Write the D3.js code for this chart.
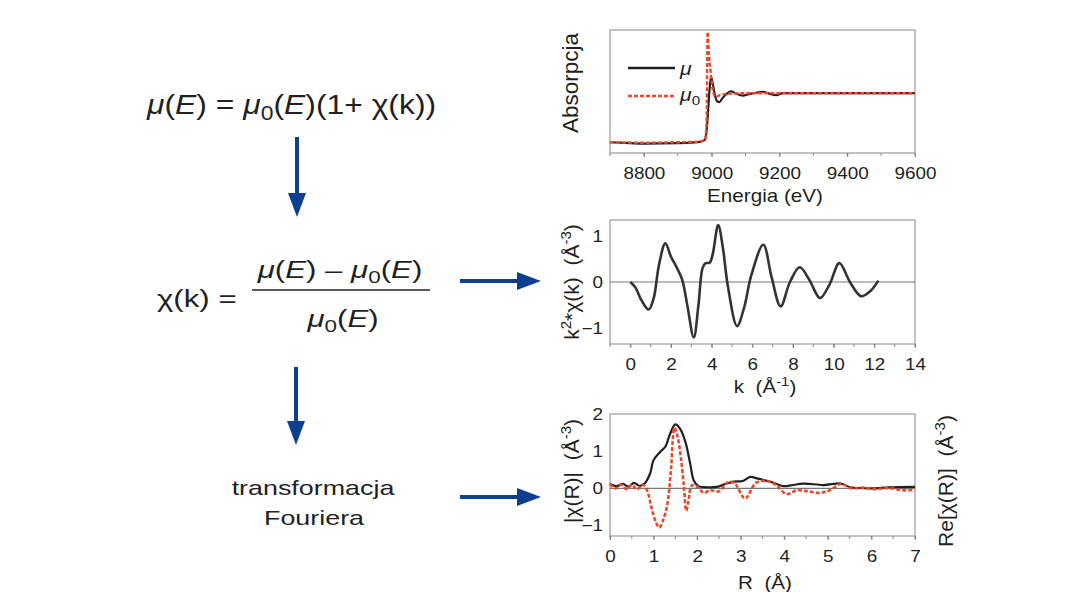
<!DOCTYPE html>
<html>
<head>
<meta charset="utf-8">
<script src="https://cdn.jsdelivr.net/npm/d3@7"></script>
<style>
  body { margin: 0; background: #fff; }
  svg { display: block; }
  text { font-family: "Liberation Sans", Arial, sans-serif; fill: #231f20; white-space: pre; }
</style>
</head>
<body>
<svg id="chart"></svg>
<script>
// widma XANES / EXAFS, wartosci
const energia = [8700, 8760, 8800, 8900, 8960, 8980, 8986, 8990, 8994, 8998, 9003, 9010, 9017, 9023, 9032, 9045, 9057, 9070, 9092, 9110, 9130, 9151, 9170, 9191, 9210, 9300, 9450, 9600];
const mu      = [0.0, -0.02, -0.03, -0.02, 0.0, 0.05, 0.3, 0.7, 1.1, 1.33, 1.2, 0.95, 0.83, 0.82, 0.9, 0.99, 1.04, 1.0, 0.95, 0.98, 1.01, 1.03, 0.99, 0.96, 1.0, 1.0, 1.0, 1.0];
const energia0 = [8700, 8800, 8900, 8960, 8980, 8985, 8988, 8992, 8996, 9000, 9005, 9012, 9025, 9050, 9100, 9300, 9600];
const mu0      = [0.0, -0.01, 0.0, 0.01, 0.05, 0.4, 2.25, 1.8, 1.5, 1.25, 1.0, 0.93, 0.96, 0.99, 1.0, 1.0, 1.0];
const eTicks = [8800, 9000, 9200, 9400, 9600];

const kVals = [0, 0.25, 0.55, 0.9, 1.15, 1.4, 1.72, 2.0, 2.3, 2.55, 2.8, 3.12, 3.35, 3.55, 3.7, 3.9, 4.05, 4.32, 4.55, 4.8, 5.25, 5.6, 5.95, 6.54, 6.95, 7.39, 7.85, 8.33, 8.8, 9.33, 9.8, 10.28, 10.8, 11.35, 11.8, 12.2];
const chiK  = [0, -0.12, -0.4, -0.6, -0.35, 0.35, 0.84, 0.55, 0.3, 0.05, -0.5, -1.21, -0.5, 0.3, 0.41, 0.42, 0.6, 1.24, 0.75, -0.1, -0.96, -0.55, 0.15, 0.81, 0.1, -0.53, 0.0, 0.32, 0.05, -0.35, -0.05, 0.41, 0.0, -0.31, -0.2, 0.03];
const kTicks = [0, 2, 4, 6, 8, 10, 12, 14];
const chiTicks = [-1, 0, 1];

const rMag = [0, 0.15, 0.3, 0.42, 0.55, 0.68, 0.8, 0.92, 1.0, 1.15, 1.27, 1.38, 1.5, 1.61, 1.73, 1.84, 1.92, 2.03, 2.22, 2.45, 2.65, 2.84, 3.05, 3.22, 3.37, 3.68, 3.99, 4.14, 4.45, 4.9, 5.3, 5.52, 6.0, 6.4, 7.0];
const chiRMag = [0.12, 0.06, 0.12, 0.05, 0.15, 0.07, 0.14, 0.4, 0.76, 0.98, 1.12, 1.47, 1.72, 1.6, 1.25, 0.67, 0.22, 0.06, 0.03, 0.04, 0.12, 0.18, 0.2, 0.31, 0.27, 0.18, 0.06, 0.08, 0.13, 0.09, 0.13, 0.03, 0.0, 0.03, 0.04];
const rRe = [0, 0.12, 0.25, 0.38, 0.5, 0.62, 0.75, 0.85, 0.95, 1.05, 1.13, 1.22, 1.32, 1.4, 1.48, 1.55, 1.63, 1.7, 1.75, 1.8, 1.88, 2.0, 2.15, 2.3, 2.5, 2.7, 2.85, 3.1, 3.35, 3.6, 3.8, 4.05, 4.3, 4.55, 4.8, 5.05, 5.3, 5.55, 5.8, 6.1, 6.4, 6.7, 7.0];
const chiRRe = [0.12, 0.0, 0.1, -0.02, 0.1, -0.03, 0.1, -0.05, -0.5, -0.9, -1.05, -0.85, -0.4, 0.5, 1.63, 1.4, 0.8, 0.0, -0.6, -0.35, 0.08, 0.05, -0.12, -0.05, -0.08, 0.16, 0.15, -0.27, 0.15, 0.2, 0.1, -0.15, -0.05, -0.08, -0.12, -0.05, 0.12, 0.0, 0.02, -0.02, 0.01, -0.05, -0.04];
const rTicks = [0, 1, 2, 3, 4, 5, 6, 7];
const rYTicks = [-1, 0, 1, 2];

const width = 1072, height = 592;
const SX = 1.18;   // tekst na oryginale jest rozciagniety w poziomie
const czarny = "#231f20", czerwony = "#e8492a", niebieski = "#0c3f8e", ramka = "#9a9a9a";

const svg = d3.select("#chart").attr("width", width).attr("height", height);

function label(x, y, size, parts, anchor, rot, sx) {
  const t = svg.append("text")
      .attr("font-size", size)
      .attr("text-anchor", anchor || "start")
      .attr("transform", rot ? `translate(${x},${y}) rotate(-90)` : `translate(${x},${y}) scale(${sx || SX},1)`);
  let shift = 0;
  parts.forEach(p => {
    const s = typeof p === "string" ? p : p[0];
    const st = typeof p === "string" ? "" : p[1];
    const ts = t.append("tspan").text(s);
    let target = 0;
    if (st.includes("sub")) target = size * 0.22;
    if (st.includes("sup")) target = -size * 0.4;
    ts.attr("dy", target - shift);
    shift = target;
    if (target !== 0) ts.attr("font-size", size * 0.72);
    if (st.includes("i")) ts.attr("font-style", "italic");
  });
  return t;
}

function panel(x, y, xTicks, minor, yTicks, fmt) {
  const g = svg.append("g");
  g.append("rect")
    .attr("x", x.range()[0]).attr("y", y.range()[1])
    .attr("width", x.range()[1] - x.range()[0])
    .attr("height", y.range()[0] - y.range()[1])
    .attr("fill", "none").attr("stroke", ramka).attr("stroke-width", 1.2);

  const ax = g.append("g").attr("transform", `translate(0,${y.range()[0]})`)
    .call(d3.axisBottom(x).tickValues(xTicks).tickSize(4).tickSizeOuter(0).tickPadding(11).tickFormat(fmt || d3.format("d")));
  ax.select(".domain").remove();
  ax.selectAll(".tick line").attr("stroke", "#777");
  ax.selectAll(".tick text").attr("font-size", 16).attr("fill", czarny)
    .attr("font-family", "Liberation Sans, Arial, sans-serif")
    .attr("transform", `scale(${SX},1)`);

  g.append("g").selectAll("line").data(minor).join("line")
    .attr("x1", d => x(d)).attr("x2", d => x(d))
    .attr("y1", y.range()[0]).attr("y2", y.range()[0] + 3)
    .attr("stroke", "#888");

  if (yTicks) {
    const ay = g.append("g").attr("transform", `translate(${x.range()[0]},0)`)
      .call(d3.axisLeft(y).tickValues(yTicks).tickSize(0).tickPadding(7).tickFormat(d3.format("d")));
    ay.select(".domain").remove();
    ay.selectAll(".tick text").attr("font-size", 16).attr("fill", czarny)
      .attr("font-family", "Liberation Sans, Arial, sans-serif")
      .attr("x", -7 / SX)
      .attr("transform", `scale(${SX},1)`);
  }
  return g;
}

// ---- panel 1: absorpcja
const x1 = d3.scaleLinear().domain([8700, 9600]).range([610, 915]);
const y1 = d3.scaleLinear().domain([-0.22, 2.29]).range([153, 30]);
const p1 = panel(x1, y1, eTicks, d3.range(8700, 9601, 100), null);

const line1 = d3.line().x(d => x1(d[0])).y(d => y1(d[1])).curve(d3.curveMonotoneX);
p1.append("path").datum(d3.zip(energia, mu)).attr("d", line1)
  .attr("fill", "none").attr("stroke", czarny).attr("stroke-width", 2.2);
p1.append("path").datum(d3.zip(energia0, mu0)).attr("d", line1)
  .attr("fill", "none").attr("stroke", czerwony).attr("stroke-width", 2.4)
  .attr("stroke-dasharray", "4,2");

// legenda
p1.append("line").attr("x1", 628).attr("x2", 675).attr("y1", 68).attr("y2", 68)
  .attr("stroke", czarny).attr("stroke-width", 2.4);
p1.append("line").attr("x1", 628).attr("x2", 675).attr("y1", 96).attr("y2", 96)
  .attr("stroke", czerwony).attr("stroke-width", 2.4).attr("stroke-dasharray", "4,2");
label(680, 75, 18, [["μ", "i"]]);
label(680, 101, 18, [["μ", "i"], ["0", "sub"]]);

label(578, 83, 22.5, ["Absorpcja"], "middle", true);
label(765, 202, 17.5, ["Energia (eV)"], "middle");

// ---- panel 2: chi(k)
const x2 = d3.scaleLinear().domain([-1, 14]).range([610, 915]);
const y2 = d3.scaleLinear().domain([-1.35, 1.35]).range([344, 220]);
const p2 = panel(x2, y2, kTicks, d3.range(-1, 14.1, 1), chiTicks);
p2.append("line").attr("x1", 610).attr("x2", 915).attr("y1", y2(0)).attr("y2", y2(0))
  .attr("stroke", "#777").attr("stroke-width", 1.2);
p2.append("path").datum(d3.zip(kVals, chiK))
  .attr("d", d3.line().x(d => x2(d[0])).y(d => y2(d[1])).curve(d3.curveCatmullRom))
  .attr("fill", "none").attr("stroke", "#333").attr("stroke-width", 2.6);

label(579, 282, 21, ["k", ["2", "sup"], "*χ(k)  (Å", ["-3", "sup"], ")"], "middle", true);
label(765, 393, 17.5, ["k  (Å", ["-1", "sup"], ")"], "middle");

// ---- panel 3: chi(R)
const x3 = d3.scaleLinear().domain([0, 7]).range([610, 915]);
const y3 = d3.scaleLinear().domain([-1.28, 2]).range([536, 414]);
const p3 = panel(x3, y3, rTicks, d3.range(0, 7.01, 0.5), rYTicks);
p3.append("line").attr("x1", 610).attr("x2", 915).attr("y1", y3(0)).attr("y2", y3(0))
  .attr("stroke", "#777").attr("stroke-width", 1.2);
const line3 = d3.line().x(d => x3(d[0])).y(d => y3(d[1])).curve(d3.curveCatmullRom);
p3.append("path").datum(d3.zip(rMag, chiRMag)).attr("d", line3)
  .attr("fill", "none").attr("stroke", czarny).attr("stroke-width", 2.2);
p3.append("path").datum(d3.zip(rRe, chiRRe)).attr("d", line3)
  .attr("fill", "none").attr("stroke", czerwony).attr("stroke-width", 2.6)
  .attr("stroke-dasharray", "4,2");

label(579, 471, 21, ["|χ(R)|  (Å", ["-3", "sup"], ")"], "middle", true);
label(953, 481, 21, ["Re[χ(R)]  (Å", ["-3", "sup"], ")"], "middle", true);
label(765, 589, 17.5, ["R  (Å)"], "middle");

// ---- wzory
label(147, 114, 27, [["μ", "i"], "(", ["E", "i"], ") = ", ["μ", "i"], ["0", "sub"], "(", ["E", "i"], ")(1+ χ(k))"]);
label(157, 307, 24, ["χ(k) ="], "start", false, 1.3);
label(340, 278, 24, [["μ", "i"], "(", ["E", "i"], ") – ", ["μ", "i"], ["0", "sub"], "(", ["E", "i"], ")"], "middle", false, 1.3);
svg.append("line").attr("x1", 252).attr("x2", 430).attr("y1", 290).attr("y2", 290)
  .attr("stroke", czarny).attr("stroke-width", 1.5);
label(343, 327, 24, [["μ", "i"], ["0", "sub"], "(", ["E", "i"], ")"], "middle", false, 1.3);
label(313, 495, 21, ["transformacja"], "middle", false, 1.28);
label(314, 525, 21, ["Fouriera"], "middle", false, 1.28);

// ---- strzalki
function strzalka(x0, y0, x1, y1) {
  const ang = Math.atan2(y1 - y0, x1 - x0), len = 24, half = 9;
  const bx = x1 - len * Math.cos(ang), by = y1 - len * Math.sin(ang);
  svg.append("line").attr("x1", x0).attr("y1", y0).attr("x2", bx).attr("y2", by)
    .attr("stroke", niebieski).attr("stroke-width", 4);
  const px = -Math.sin(ang) * half, py = Math.cos(ang) * half;
  svg.append("path")
    .attr("d", `M${x1},${y1}L${bx + px},${by + py}L${bx - px},${by - py}Z`)
    .attr("fill", niebieski);
}
strzalka(297, 137, 297, 217);
strzalka(296, 367, 296, 445);
strzalka(460, 281, 541, 281);
strzalka(460, 497, 541, 497);
</script>
</body>
</html>
